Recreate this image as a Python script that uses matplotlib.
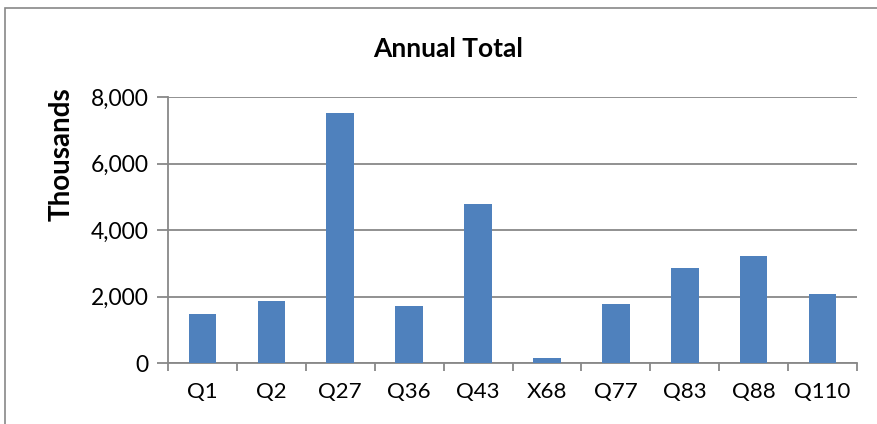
import matplotlib.pyplot as plt
from matplotlib.patches import Rectangle
from matplotlib.ticker import FuncFormatter

plt.rcParams['font.family'] = ['Lato', 'DejaVu Sans']

labels = ["Q1", "Q2", "Q27", "Q36", "Q43", "X68", "Q77", "Q83", "Q88", "Q110"]
totals = [1465, 1865, 7520, 1705, 4795, 140, 1785, 2850, 3210, 2090]

fig = plt.figure(figsize=(8.77, 4.24), dpi=100)
ax = fig.add_axes([168 / 877, 1 - 363 / 424, (857 - 168) / 877, (363 - 97) / 424])

pos = list(range(len(labels)))
ax.bar(pos, totals, width=0.4, color="#4F81BD", zorder=3)

ax.set_xlim(-0.5, len(labels) - 0.5)
ax.set_ylim(0, 8000)
ax.set_yticks([0, 2000, 4000, 6000, 8000])
ax.yaxis.set_major_formatter(FuncFormatter(lambda v, p: f"{int(v):,}"))
ax.grid(axis="y", color="#888888", linewidth=1.3, zorder=0)

ax.set_xticks(pos)
ax.set_xticklabels(labels)
ax.set_xticks([p + 0.5 for p in [-1] + pos], minor=True)
ax.tick_params(axis="x", which="major", length=0, pad=14, labelsize=16)
ax.tick_params(axis="x", which="minor", length=6, width=1.3, color="#888888")
ax.tick_params(axis="y", length=8, width=1.3, color="#888888", labelsize=16.5, pad=6)

for s in ["top", "right"]:
    ax.spines[s].set_visible(False)
for s in ["left", "bottom"]:
    ax.spines[s].set_color("#888888")
    ax.spines[s].set_linewidth(1.3)

fig.text(448 / 877, 1 - 57 / 424, "Annual Total", fontsize=19, fontweight="bold",
         ha="center", va="baseline")
ax.set_ylabel("Thousands", fontsize=20, fontweight="bold")
ax.yaxis.set_label_coords((75 - 168) / 689, (363 - 154) / 266)

fig.patches.append(Rectangle((5 / 877, -0.1), 1.2, 1.1 - 8 / 424, transform=fig.transFigure,
                             fill=False, edgecolor="#888888", linewidth=1.2))

fig.savefig("out.png", dpi=100)
